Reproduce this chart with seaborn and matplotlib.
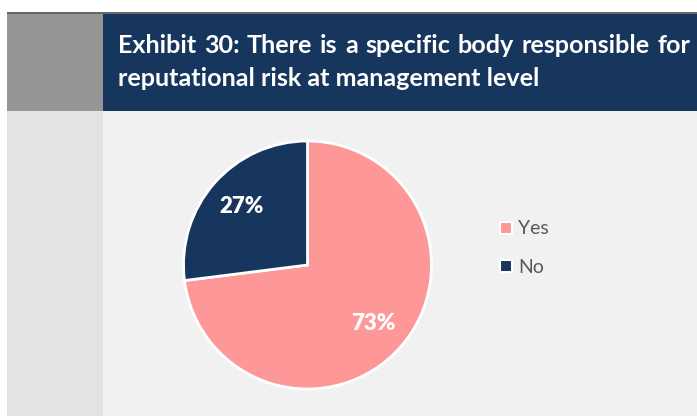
import numpy as np
import matplotlib
matplotlib.use("Agg")
import matplotlib.pyplot as plt
import seaborn as sns
from matplotlib.patches import Rectangle
from matplotlib.lines import Line2D

# data
labels = ["Yes", "No"]
shares = [73, 27]
title_lines = ["Exhibit 30: There is a specific body responsible for",
               "reputational risk at management level"]

colors = ["#fe9898", "#17365d"]

sns.set_style("white")
plt.rcParams["font.family"] = ["Lato", "DejaVu Sans"]

W, H = 697, 416
fig = plt.figure(figsize=(W / 100, H / 100), dpi=100)
fig.patch.set_facecolor("white")


def px_rect(x0, y0, x1, y1, color):
    # rectangle given in pixel coords measured from the top-left
    fig.patches.append(Rectangle((x0 / W, 1 - y1 / H), (x1 - x0) / W, (y1 - y0) / H,
                                 transform=fig.transFigure, color=color, zorder=-10, lw=0))


px_rect(7, 12, W, 14, "#666666")
px_rect(7, 14, 103, 111, "#969696")
px_rect(7, 111, 103, 416, "#e3e3e3")
px_rect(103, 14, W, 111, "#17365d")
px_rect(103, 111, W, 416, "#f1f1f1")

# title, fitted so the second line spans the same width as the reference
t2 = fig.text(118 / W, 1 - 86 / H, title_lines[1], color="white", fontweight="bold",
              fontsize=16, va="baseline", ha="left")
fig.canvas.draw()
r = fig.canvas.get_renderer()
w2 = t2.get_window_extent(r).width
fs = 16 * 422 / w2
t2.set_fontsize(fs)

# first line justified across the header like the original
words = title_lines[0].split(" ")
ws = []
for wd in words:
    tt = fig.text(0, 0, wd, fontsize=fs, fontweight="bold")
    fig.canvas.draw()
    ws.append(tt.get_window_extent(r).width)
    tt.remove()
gap = (572 - sum(ws)) / (len(words) - 1)
x = 118
for wd, wdw in zip(words, ws):
    fig.text(x / W, 1 - 53 / H, wd, color="white", fontweight="bold",
             fontsize=fs, va="baseline", ha="left")
    x += wdw + gap

# pie
cx, cy, rad = 307.5, 265, 124
half = rad * 1.05
ax = fig.add_axes([(cx - half) / W, (H - cy - half) / H, 2 * half / W, 2 * half / H])
ax.set_facecolor("none")
wedges, texts, autotexts = ax.pie(
    shares, colors=colors, startangle=90, counterclock=False,
    autopct="%d%%", pctdistance=0.71,
    wedgeprops=dict(edgecolor="white", linewidth=2),
    textprops=dict(color="white", fontweight="heavy", fontsize=16))
ax.set_xlim(-1.05, 1.05)
ax.set_ylim(-1.05, 1.05)
ax.set_aspect("equal")

handles = [Line2D([0], [0], marker="s", linestyle="none", markersize=8,
                  markerfacecolor=c, markeredgecolor="white", markeredgewidth=1.5)
           for c in colors]
leg = fig.legend(handles, labels, loc="center left",
                 bbox_to_anchor=(490 / W, 1 - 248 / H), frameon=False,
                 fontsize=14, labelcolor="#595959", handlelength=0.6,
                 handletextpad=0.35, labelspacing=1.1, borderpad=0)

fig.savefig("out.png", dpi=100, facecolor=fig.get_facecolor())
